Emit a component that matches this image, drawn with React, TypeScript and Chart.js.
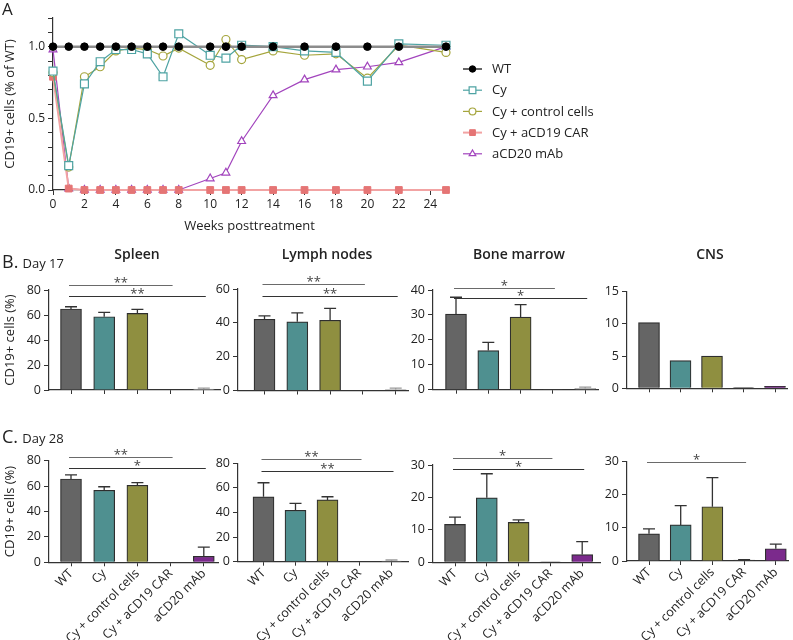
import React, { useEffect, useRef } from 'react';
import { Chart, registerables } from 'chart.js';

Chart.register(...registerables);

const FONT = "'Open Sans', 'Noto Sans', 'DejaVu Sans', sans-serif";
Chart.defaults.font.family = FONT;
Chart.defaults.color = '#222';

// ---------- Panel A data ----------
const WEEKS = [0, 1, 2, 3, 4, 5, 6, 7, 8, 10, 11, 12, 14, 16, 18, 20, 22, 25];
const WT_LINE = [1, 1, 1, 1, 1, 1, 1, 1, 1, 1, 1, 1, 1, 1, 1, 1, 1, 1];
const CY_LINE = [0.83, 0.17, 0.74, 0.895, 0.98, 0.98, 0.95, 0.79, 1.09, 0.94, 0.92, 1.01, 1.0, 0.97, 0.96, 0.76, 1.02, 1.01];
const CTRL_LINE = [0.82, 0.16, 0.79, 0.86, 0.97, 0.99, 0.98, 0.935, 0.99, 0.87, 1.05, 0.91, 0.97, 0.94, 0.95, 0.78, 1.01, 0.96];
const CAR_LINE = [0.79, 0.01, 0, 0, 0, 0, 0, 0, 0, 0, 0, 0, 0, 0, 0, 0, 0, 0];
const CD20_LINE = [0.98, 0.01, 0, 0, 0, 0, 0, 0, 0, 0.08, 0.12, 0.34, 0.66, 0.77, 0.84, 0.86, 0.89, 1.0];
const SERIES_NAMES = ['WT', 'Cy', 'Cy + control cells', 'Cy + aCD19 CAR', 'aCD20 mAb'];
const A_X_TICKS = [0, 2, 4, 6, 8, 10, 12, 14, 16, 18, 20, 22, 24];
const A_Y_TICKS = [0, 0.1, 0.2, 0.3, 0.4, 0.5, 0.6, 0.7, 0.8, 0.9, 1.0, 1.1, 1.2];
const A_Y_LABELED = [0, 0.5, 1.0];

// ---------- Bar panels data ----------
const CATEGORIES = ['WT', 'Cy', 'Cy + control cells', 'Cy + aCD19 CAR', 'aCD20 mAb'];

const B_SPLEEN_MEAN = [64.8, 58.6, 61.3, 0, 0.8];
const B_SPLEEN_SD = [1.8, 3.5, 3.2, 0, 0.7];
const B_LYMPH_MEAN = [42.1, 40.6, 41.5, 0, 0.6];
const B_LYMPH_SD = [2.0, 5.3, 7.0, 0, 0.8];
const B_BONE_MEAN = [30.3, 15.7, 29.1, 0.1, 0.5];
const B_BONE_SD = [6.8, 3.3, 5.0, 0, 0.5];
const B_CNS_MEAN = [10.2, 4.3, 5.0, 0.1, 0.3];
const B_CNS_SD = [0, 0, 0, 0, 0];

const C_SPLEEN_MEAN = [65.6, 56.7, 60.6, 0, 4.7];
const C_SPLEEN_SD = [3.2, 2.8, 2.1, 0, 7.3];
const C_LYMPH_MEAN = [52.8, 41.8, 50.2, 0, 0.6];
const C_LYMPH_SD = [11.4, 5.7, 2.6, 0, 0.8];
const C_BONE_MEAN = [11.7, 19.9, 12.3, 0.1, 2.4];
const C_BONE_SD = [2.2, 7.4, 0.8, 0, 4.0];
const C_CNS_MEAN = [8.2, 10.9, 16.4, 0.3, 3.7];
const C_CNS_SD = [1.5, 5.8, 8.8, 0.1, 1.4];

// significance brackets: [fromIndex, toIndex, value, label]
const B_SPLEEN_SIG: [number, number, number, string][] = [[0, 3, 84, '**'], [0, 4, 75, '**']];
const B_LYMPH_SIG: [number, number, number, string][] = [[0, 3, 62.7, '**'], [0, 4, 56, '**']];
const B_BONE_SIG: [number, number, number, string][] = [[0, 3, 41, '*'], [0, 4, 36.8, '*']];
const B_CNS_SIG: [number, number, number, string][] = [];
const C_SPLEEN_SIG: [number, number, number, string][] = [[0, 3, 83, '**'], [0, 4, 74.5, '*']];
const C_LYMPH_SIG: [number, number, number, string][] = [[0, 3, 83.5, '**'], [0, 4, 74, '**']];
const C_BONE_SIG: [number, number, number, string][] = [[0, 3, 32.3, '*'], [0, 4, 28.8, '*']];
const C_CNS_SIG: [number, number, number, string][] = [[0, 3, 30, '*']];

const B_SPLEEN_Y = [0, 20, 40, 60, 80];
const B_LYMPH_Y = [0, 20, 40, 60];
const B_BONE_Y = [0, 10, 20, 30, 40];
const B_CNS_Y = [0, 5, 10, 15];
const C_SPLEEN_Y = [0, 20, 40, 60, 80];
const C_LYMPH_Y = [0, 20, 40, 60, 80];
const C_BONE_Y = [0, 10, 20, 30];
const C_CNS_Y = [0, 10, 20, 30];

// ---------- styles ----------
const BAR_COLORS = ['#656565', '#4f9090', '#8f8f40', '#444444', '#7b2a8c'];
const FAINT = '#c2c2c2';
const AXIS = '#333';

type Panel = {
  means: number[]; sds: number[]; sig: [number, number, number, string][]; yTicks: number[];
  canvasLeft: number; canvasTop: number; canvasWidth: number; canvasHeight: number;
  axisX: number; firstCenter: number; spacing: number; rightX: number; topPix: number; zeroPix: number;
  labels: boolean; yTitle?: string; faintLast?: boolean;
};

function drawMarker(ctx: CanvasRenderingContext2D, style: string, x: number, y: number, r: number, fill: string, stroke: string, lw: number) {
  ctx.save();
  ctx.beginPath();
  if (style === 'circle') {
    ctx.arc(x, y, r, 0, Math.PI * 2);
  } else if (style === 'rect') {
    const s = r * Math.SQRT1_2;
    ctx.rect(x - s, y - s, 2 * s, 2 * s);
  } else if (style === 'triangle') {
    const h = r * 1.5;
    const side = h * 2 / Math.sqrt(3);
    ctx.moveTo(x, y - h * 2 / 3);
    ctx.lineTo(x + side / 2, y + h / 3);
    ctx.lineTo(x - side / 2, y + h / 3);
    ctx.closePath();
  }
  ctx.fillStyle = fill;
  ctx.fill();
  ctx.lineWidth = lw;
  ctx.strokeStyle = stroke;
  ctx.stroke();
  ctx.restore();
}

function lineConfig(): any {
  const mk = (ys: number[]) => WEEKS.map((w, i) => ({ x: w, y: ys[i] }));
  const datasets = [
    { label: SERIES_NAMES[0], data: mk(WT_LINE), borderColor: '#8c8c8c', borderWidth: 2.5, pointStyle: 'circle', pointRadius: 3.8, pointBackgroundColor: '#000', pointBorderColor: '#000', pointBorderWidth: 1, clip: false },
    { label: SERIES_NAMES[1], data: mk(CY_LINE), borderColor: '#4ea3a3', borderWidth: 1.2, pointStyle: 'rect', pointRadius: 5.6, pointBackgroundColor: '#fff', pointBorderColor: '#4ea3a3', pointBorderWidth: 1.2, clip: false },
    { label: SERIES_NAMES[2], data: mk(CTRL_LINE), borderColor: '#a5a53c', borderWidth: 1.2, pointStyle: 'circle', pointRadius: 4, pointBackgroundColor: '#fff', pointBorderColor: '#a5a53c', pointBorderWidth: 1.2, clip: false },
    { label: SERIES_NAMES[3], data: mk(CAR_LINE), borderColor: '#f2a3a3', borderWidth: 2, pointStyle: 'rect', pointRadius: 4.8, pointBackgroundColor: '#e57575', pointBorderColor: '#e57575', pointBorderWidth: 1, clip: false },
    { label: SERIES_NAMES[4], data: mk(CD20_LINE), borderColor: '#a244bd', borderWidth: 1.2, pointStyle: 'triangle', pointRadius: 4.5, pointBackgroundColor: '#fff', pointBorderColor: '#a244bd', pointBorderWidth: 1.2, clip: false },
  ];
  const legendPlugin = {
    id: 'customLegend',
    afterDraw(chart: any) {
      const ctx = chart.ctx as CanvasRenderingContext2D;
      const x0 = chart.chartArea.right + 17;
      const yStart = chart.chartArea.top + 51;
      chart.data.datasets.forEach((ds: any, i: number) => {
        const y = yStart + i * 21.2;
        ctx.save();
        ctx.strokeStyle = ds.borderColor;
        ctx.lineWidth = i === 0 ? 1.5 : ds.borderWidth;
        if (i === 0) ctx.strokeStyle = '#333';
        ctx.beginPath();
        ctx.moveTo(x0, y);
        ctx.lineTo(x0 + 19, y);
        ctx.stroke();
        ctx.restore();
        drawMarker(ctx, ds.pointStyle, x0 + 9.5, y, ds.pointRadius * 0.85, ds.pointBackgroundColor, ds.pointBorderColor, ds.pointBorderWidth);
        ctx.save();
        ctx.fillStyle = '#222';
        ctx.font = `13px ${FONT}`;
        ctx.textBaseline = 'middle';
        ctx.fillText(ds.label, x0 + 29, y + 0.5);
        ctx.restore();
      });
    },
  };
  return {
    type: 'line',
    data: { datasets },
    options: {
      responsive: false,
      animation: false,
      layout: { padding: { top: 18, right: 154, left: 0, bottom: 0 } },
      plugins: { legend: { display: false }, tooltip: { enabled: false } },
      scales: {
        x: {
          type: 'linear', min: 0, max: 25,
          afterBuildTicks: (s: any) => { s.ticks = A_X_TICKS.map((v) => ({ value: v })); },
          afterFit: (s: any) => { s.height = 46; },
          ticks: { font: { size: 12 }, color: '#222', maxRotation: 0, autoSkip: false, padding: 2 },
          grid: { drawOnChartArea: false, drawTicks: true, tickLength: 5, color: AXIS },
          border: { color: AXIS, width: 1.2 },
          title: { display: true, text: 'Weeks posttreatment', font: { size: 13 }, color: '#222', padding: { top: 0, bottom: 2 } },
        },
        y: {
          min: 0, max: 1.2,
          afterBuildTicks: (s: any) => { s.ticks = A_Y_TICKS.map((v) => ({ value: v })); },
          afterFit: (s: any) => { s.width = 53; },
          ticks: {
            autoSkip: false,
            font: { size: 12 }, color: '#222', padding: 3,
            callback: (v: number) => (A_Y_LABELED.some((t) => Math.abs(t - v) < 1e-6) ? v.toFixed(1) : ''),
          },
          grid: { drawOnChartArea: false, drawTicks: true, tickLength: 5, color: AXIS },
          border: { color: AXIS, width: 1.2 },
          title: { display: true, text: 'CD19+ cells (% of WT)', font: { size: 13 }, color: '#222', padding: { top: 2, bottom: 4 } },
        },
      },
    },
    plugins: [legendPlugin],
  };
}

function barConfig(p: Panel): any {
  const xMin = -(p.firstCenter - p.axisX) / p.spacing;
  const xMax = xMin + (p.rightX - p.axisX) / p.spacing;
  const yMax = p.yTicks[p.yTicks.length - 1];
  const colors = CATEGORIES.map((_, i) => (i === 4 && p.faintLast ? FAINT : BAR_COLORS[i]));
  const extras = {
    id: 'extras',
    afterDatasetsDraw(chart: any) {
      const ctx = chart.ctx as CanvasRenderingContext2D;
      const xs = chart.scales.x;
      const ys = chart.scales.y;
      ctx.save();
      p.means.forEach((m, i) => {
        const sd = p.sds[i];
        if (!sd) return;
        const px = xs.getPixelForValue(i);
        const y0 = ys.getPixelForValue(m);
        const y1 = ys.getPixelForValue(m + sd);
        const faint = i === 4 && p.faintLast;
        ctx.strokeStyle = faint ? '#9a9a9a' : AXIS;
        ctx.lineWidth = 1.3;
        ctx.beginPath();
        ctx.moveTo(px, y0);
        ctx.lineTo(px, y1);
        ctx.moveTo(px - 6, y1);
        ctx.lineTo(px + 6, y1);
        ctx.stroke();
      });
      p.sig.forEach(([a, b, v, label], k) => {
        const x1 = xs.getPixelForValue(a) - 2;
        const x2 = xs.getPixelForValue(b) + 2;
        const y = Math.round(ys.getPixelForValue(v)) + 0.5;
        ctx.strokeStyle = k === 0 ? '#6a6a6a' : '#333';
        ctx.lineWidth = 1.2;
        ctx.beginPath();
        ctx.moveTo(x1, y);
        ctx.lineTo(x2, y);
        ctx.stroke();
        ctx.fillStyle = '#444';
        ctx.font = `13px ${FONT}`;
        ctx.textAlign = 'center';
        ctx.textBaseline = 'alphabetic';
        ctx.fillText(label, (x1 + x2) / 2, y + 1.5);
      });
      ctx.restore();
    },
  };
  return {
    type: 'bar',
    data: {
      datasets: [{
        data: p.means.map((m, i) => ({ x: i, y: m })),
        backgroundColor: colors,
        borderColor: CATEGORIES.map((_, i) => (i === 4 && p.faintLast ? '#aaa' : '#2e2e2e')),
        borderWidth: 1.2,
        barThickness: 21,
        clip: false,
      }],
    },
    options: {
      responsive: false,
      animation: false,
      layout: { padding: { top: p.topPix - p.canvasTop, right: p.canvasLeft + p.canvasWidth - p.rightX, left: 0, bottom: 0 } },
      plugins: { legend: { display: false }, tooltip: { enabled: false } },
      scales: {
        x: {
          type: 'linear', min: xMin, max: xMax, offset: false,
          afterBuildTicks: (s: any) => { s.ticks = CATEGORIES.map((_, i) => ({ value: i })); },
          afterFit: (s: any) => { s.height = p.canvasTop + p.canvasHeight - p.zeroPix; },
          ticks: {
            autoSkip: false,
            minRotation: p.labels ? 45 : 0,
            maxRotation: p.labels ? 45 : 0,
            font: { size: 12.5 }, color: '#222', padding: 0,
            callback: (v: number) => (p.labels ? CATEGORIES[Math.round(v)] : ''),
          },
          grid: { drawOnChartArea: false, drawTicks: true, tickLength: 4, color: AXIS, offset: false },
          border: { color: AXIS, width: 1.2 },
        },
        y: {
          min: 0, max: yMax,
          afterBuildTicks: (s: any) => { s.ticks = p.yTicks.map((v) => ({ value: v })); },
          afterFit: (s: any) => { s.width = p.axisX - p.canvasLeft; },
          ticks: { autoSkip: false, font: { size: 12.5 }, color: '#222', padding: 3 },
          grid: { drawOnChartArea: false, drawTicks: true, tickLength: 5, color: AXIS },
          border: { color: AXIS, width: 1.2 },
          title: { display: !!p.yTitle, text: p.yTitle || '', font: { size: 13 }, color: '#222', padding: { top: 2, bottom: 2 } },
        },
      },
    },
    plugins: [extras],
  };
}

function ChartCanvas({ left, top, width, height, build }: { left: number; top: number; width: number; height: number; build: () => any }) {
  const ref = useRef<HTMLCanvasElement | null>(null);
  useEffect(() => {
    if (!ref.current) return;
    const chart = new Chart(ref.current, build());
    return () => chart.destroy();
  }, []);
  return <canvas ref={ref} width={width} height={height} style={{ position: 'absolute', left, top, width, height }} />;
}

const ROW_B = { canvasTop: 262, canvasHeight: 140 };
const ROW_C = { canvasTop: 440, canvasHeight: 200 };

const PANELS: Panel[] = [
  { means: B_SPLEEN_MEAN, sds: B_SPLEEN_SD, sig: B_SPLEEN_SIG, yTicks: B_SPLEEN_Y, ...ROW_B, canvasLeft: 0, canvasWidth: 226, axisX: 49, firstCenter: 71, spacing: 33.2, rightX: 220, topPix: 290, zeroPix: 390, labels: false, yTitle: 'CD19+ cells (%)', faintLast: true },
  { means: B_LYMPH_MEAN, sds: B_LYMPH_SD, sig: B_LYMPH_SIG, yTicks: B_LYMPH_Y, ...ROW_B, canvasLeft: 195, canvasWidth: 219, axisX: 238, firstCenter: 264.5, spacing: 32.8, rightX: 408, topPix: 289, zeroPix: 390.5, labels: false, faintLast: true },
  { means: B_BONE_MEAN, sds: B_BONE_SD, sig: B_BONE_SIG, yTicks: B_BONE_Y, ...ROW_B, canvasLeft: 393, canvasWidth: 211, axisX: 433, firstCenter: 456, spacing: 32.3, rightX: 598, topPix: 290, zeroPix: 389.7, labels: false, faintLast: true },
  { means: B_CNS_MEAN, sds: B_CNS_SD, sig: B_CNS_SIG, yTicks: B_CNS_Y, ...ROW_B, canvasLeft: 588, canvasWidth: 205, axisX: 627, firstCenter: 649, spacing: 31.5, rightX: 787, topPix: 291.7, zeroPix: 388.3, labels: false },
  { means: C_SPLEEN_MEAN, sds: C_SPLEEN_SD, sig: C_SPLEEN_SIG, yTicks: C_SPLEEN_Y, ...ROW_C, canvasLeft: 0, canvasWidth: 226, axisX: 49, firstCenter: 71, spacing: 33.2, rightX: 218, topPix: 460.7, zeroPix: 562.3, labels: true, yTitle: 'CD19+ cells (%)' },
  { means: C_LYMPH_MEAN, sds: C_LYMPH_SD, sig: C_LYMPH_SIG, yTicks: C_LYMPH_Y, ...ROW_C, canvasLeft: 195, canvasWidth: 219, axisX: 238, firstCenter: 263.5, spacing: 32, rightX: 408, topPix: 463.3, zeroPix: 561.7, labels: true, faintLast: true },
  { means: C_BONE_MEAN, sds: C_BONE_SD, sig: C_BONE_SIG, yTicks: C_BONE_Y, ...ROW_C, canvasLeft: 393, canvasWidth: 211, axisX: 433, firstCenter: 455, spacing: 31.8, rightX: 600, topPix: 465, zeroPix: 562.3, labels: true },
  { means: C_CNS_MEAN, sds: C_CNS_SD, sig: C_CNS_SIG, yTicks: C_CNS_Y, ...ROW_C, canvasLeft: 588, canvasWidth: 205, axisX: 627, firstCenter: 649, spacing: 31.7, rightX: 788, topPix: 461.7, zeroPix: 561, labels: true },
];

const TITLES: [string, number][] = [['Spleen', 137], ['Lymph nodes', 327], ['Bone marrow', 519], ['CNS', 710]];

export default function App() {
  const txt: React.CSSProperties = { position: 'absolute', fontFamily: FONT, color: '#222', whiteSpace: 'nowrap' };
  return (
    <div style={{ position: 'absolute', left: 0, top: 0, width: 793, height: 640, background: '#fff', overflow: 'hidden' }}>
      <ChartCanvas left={0} top={0} width={600} height={236} build={lineConfig} />
      {PANELS.map((p, i) => (
        <ChartCanvas key={i} left={p.canvasLeft} top={p.canvasTop} width={p.canvasWidth} height={p.canvasHeight} build={() => barConfig(p)} />
      ))}
      <div style={{ ...txt, left: 2, top: -1, fontSize: 17, lineHeight: '20px' }}>A</div>
      <div style={{ ...txt, left: 2, top: 250, lineHeight: '22px' }}>
        <span style={{ fontSize: 18 }}>B.</span> <span style={{ fontSize: 13 }}>Day 17</span>
      </div>
      <div style={{ ...txt, left: 2, top: 425, lineHeight: '22px' }}>
        <span style={{ fontSize: 18 }}>C.</span> <span style={{ fontSize: 13 }}>Day 28</span>
      </div>
      {TITLES.map(([t, cx]) => (
        <div key={t} style={{ ...txt, left: cx - 70, width: 140, textAlign: 'center', top: 244, fontSize: 14, fontWeight: 600, lineHeight: '20px' }}>{t}</div>
      ))}
    </div>
  );
}
